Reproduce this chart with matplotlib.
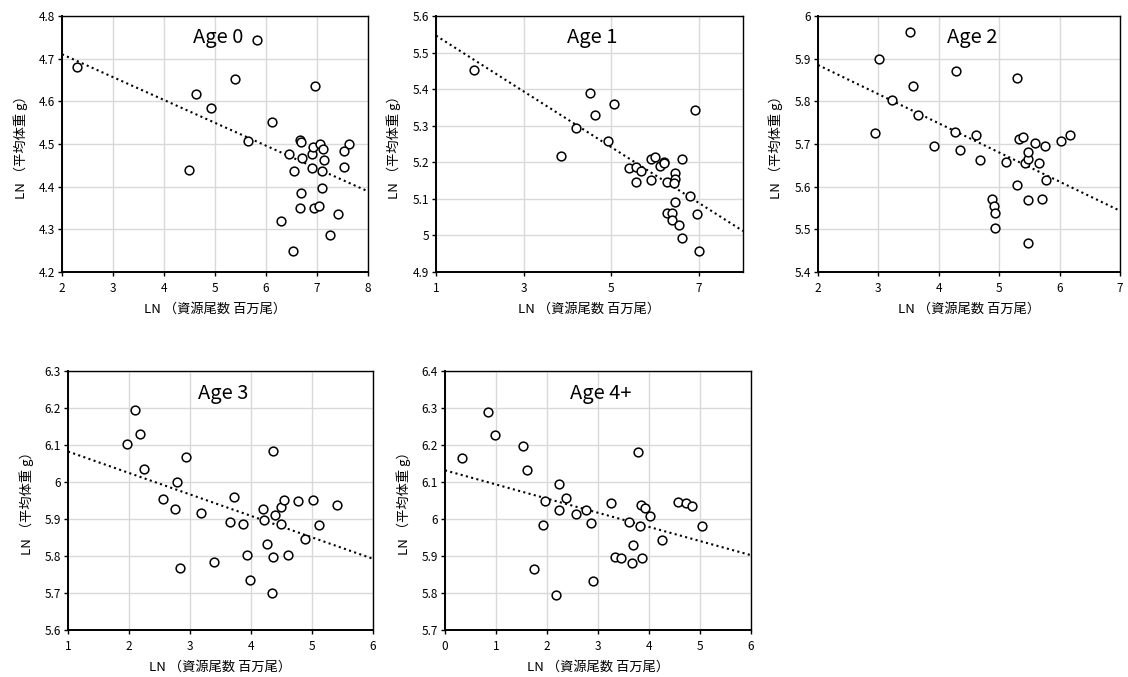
import numpy as np
import matplotlib
matplotlib.use("Agg")
import matplotlib.pyplot as plt
from matplotlib.ticker import FuncFormatter

plt.rcParams['font.family'] = ['Noto Sans CJK JP', 'DejaVu Sans']

# LN(stock number, million fish) vs LN(mean body weight, g), by age
age0_x = [2.29, 4.63, 4.92, 5.39, 5.82, 4.50, 5.64, 6.12, 6.97, 6.67, 6.69, 6.45,
          6.70, 6.54, 6.90, 6.93, 7.05, 7.12, 7.14, 6.90, 7.09, 7.62, 7.52, 7.52,
          6.69, 7.09, 6.66, 6.95, 7.03, 7.41, 6.30, 7.25, 6.52]
age0_y = [4.681, 4.618, 4.585, 4.652, 4.744, 4.439, 4.507, 4.551, 4.637, 4.510,
          4.504, 4.477, 4.467, 4.436, 4.477, 4.493, 4.500, 4.488, 4.463, 4.444,
          4.436, 4.499, 4.483, 4.447, 4.384, 4.397, 4.351, 4.351, 4.354, 4.336,
          4.320, 4.286, 4.249]

age1_x = [1.86, 3.84, 4.19, 4.52, 4.62, 5.05, 4.92, 5.41, 5.56, 5.55, 5.68, 5.90,
          5.91, 6.00, 6.11, 6.20, 6.21, 6.27, 6.45, 6.45, 6.42, 6.62, 6.91, 6.80,
          6.45, 6.27, 6.38, 6.39, 6.53, 6.95, 6.62, 7.00]
age1_y = [5.452, 5.218, 5.294, 5.389, 5.328, 5.360, 5.258, 5.185, 5.187, 5.145,
          5.175, 5.152, 5.210, 5.214, 5.190, 5.201, 5.197, 5.145, 5.171, 5.155,
          5.143, 5.210, 5.343, 5.107, 5.092, 5.062, 5.062, 5.043, 5.028, 5.058,
          4.994, 4.958]

age2_x = [2.94, 3.01, 3.23, 3.52, 3.58, 3.65, 3.92, 4.28, 4.27, 4.35, 4.62, 4.69,
          4.88, 4.91, 4.93, 4.93, 5.11, 5.29, 5.29, 5.33, 5.39, 5.42, 5.47, 5.48,
          5.48, 5.48, 5.60, 5.66, 5.75, 5.77, 5.71, 6.02, 6.17]
age2_y = [5.725, 5.899, 5.802, 5.962, 5.837, 5.769, 5.696, 5.871, 5.727, 5.686,
          5.720, 5.663, 5.572, 5.555, 5.538, 5.504, 5.657, 5.855, 5.603, 5.711,
          5.717, 5.655, 5.665, 5.682, 5.569, 5.468, 5.702, 5.655, 5.696, 5.616,
          5.571, 5.707, 5.722]

age3_x = [1.97, 2.10, 2.18, 2.25, 2.56, 2.78, 2.76, 2.93, 2.84, 3.18, 3.39, 3.66,
          3.72, 3.87, 3.94, 3.99, 4.20, 4.22, 4.26, 4.36, 4.36, 4.34, 4.40, 4.49,
          4.50, 4.54, 4.60, 4.77, 4.88, 5.02, 5.12, 5.41]
age3_y = [6.102, 6.194, 6.129, 6.036, 5.954, 5.999, 5.927, 6.068, 5.768, 5.917,
          5.783, 5.893, 5.960, 5.886, 5.802, 5.735, 5.927, 5.896, 5.832, 6.085,
          5.798, 5.699, 5.911, 5.886, 5.933, 5.950, 5.802, 5.948, 5.847, 5.950,
          5.885, 5.939]

age4_x = [0.34, 0.84, 0.98, 1.53, 1.60, 1.74, 1.93, 1.97, 2.17, 2.24, 2.24, 2.38,
          2.57, 2.76, 2.86, 2.90, 3.26, 3.34, 3.46, 3.60, 3.68, 3.67, 3.79, 3.83,
          3.85, 3.87, 3.92, 4.01, 4.25, 4.57, 4.73, 4.85, 5.04]
age4_y = [6.166, 6.290, 6.226, 6.198, 6.132, 5.866, 5.984, 6.050, 5.795, 6.095,
          6.023, 6.056, 6.014, 6.023, 5.990, 5.832, 6.044, 5.898, 5.895, 5.993,
          5.930, 5.880, 6.181, 5.981, 6.039, 5.895, 6.030, 6.008, 5.944, 6.047,
          6.044, 6.035, 5.981]

titles = ['Age 0', 'Age 1', 'Age 2', 'Age 3', 'Age 4+']
xs = [age0_x, age1_x, age2_x, age3_x, age4_x]
ys = [age0_y, age1_y, age2_y, age3_y, age4_y]
xlims = [(2, 8), (1, 8), (2, 7), (1, 6), (0, 6)]
xticks = [range(2, 9), [1, 3, 5, 7], range(2, 8), range(1, 7), range(0, 7)]
ylims = [(4.2, 4.8), (4.9, 5.6), (5.4, 6.0), (5.6, 6.3), (5.7, 6.4)]

# axes boxes in pixels: left, top, right, bottom
boxes = [(62, 16, 368, 272), (436, 16, 743, 272), (818, 16, 1120, 272),
         (68, 371, 373, 630), (445, 371, 751, 630)]

W, H = 1128, 677
fig = plt.figure(figsize=(W / 100, H / 100), dpi=100)

for i in range(5):
    l, t, r, b = boxes[i]
    ax = fig.add_axes([l / W, 1 - b / H, (r - l) / W, (b - t) / H])
    x = np.array(xs[i])
    y = np.array(ys[i])

    ax.set_xlim(*xlims[i])
    ax.set_ylim(*ylims[i])
    ax.set_xticks(list(xticks[i]))
    ax.set_yticks(np.arange(ylims[i][0], ylims[i][1] + 0.05, 0.1))
    ax.yaxis.set_major_formatter(FuncFormatter(lambda v, p: f"{round(v, 1):g}"))
    ax.grid(True, color='#d9d9d9', linewidth=1)
    ax.set_axisbelow(True)

    # least squares trend line
    k, c = np.polyfit(x, y, 1)
    tx = np.array(xlims[i], dtype=float)
    ax.plot(tx, k * tx + c, color='black', linestyle=(0, (1, 1.6)), linewidth=1.5, zorder=2)

    ax.plot(x, y, 'o', markersize=6.3, markerfacecolor='white', markeredgecolor='black',
            markeredgewidth=1.1, zorder=3, clip_on=False)

    ax.text(0.51, 0.915, titles[i], transform=ax.transAxes, ha='center', va='center',
            fontsize=14.5)

    for s in ax.spines.values():
        s.set_color('black')
        s.set_linewidth(1.0)
    ax.spines['left'].set_linewidth(1.4)
    ax.spines['bottom'].set_linewidth(1.4)
    ax.tick_params(direction='out', length=3, width=1, labelsize=8.5, colors='black')
    ax.tick_params(axis='x', pad=4)
    ax.tick_params(axis='y', pad=2)
    ax.set_xlabel('LN （資源尾数 百万尾）', fontsize=9.5, labelpad=6)
    ax.set_ylabel('LN （平均体重 g）', fontsize=9.5, labelpad=8)

fig.savefig('out.png', dpi=100)
